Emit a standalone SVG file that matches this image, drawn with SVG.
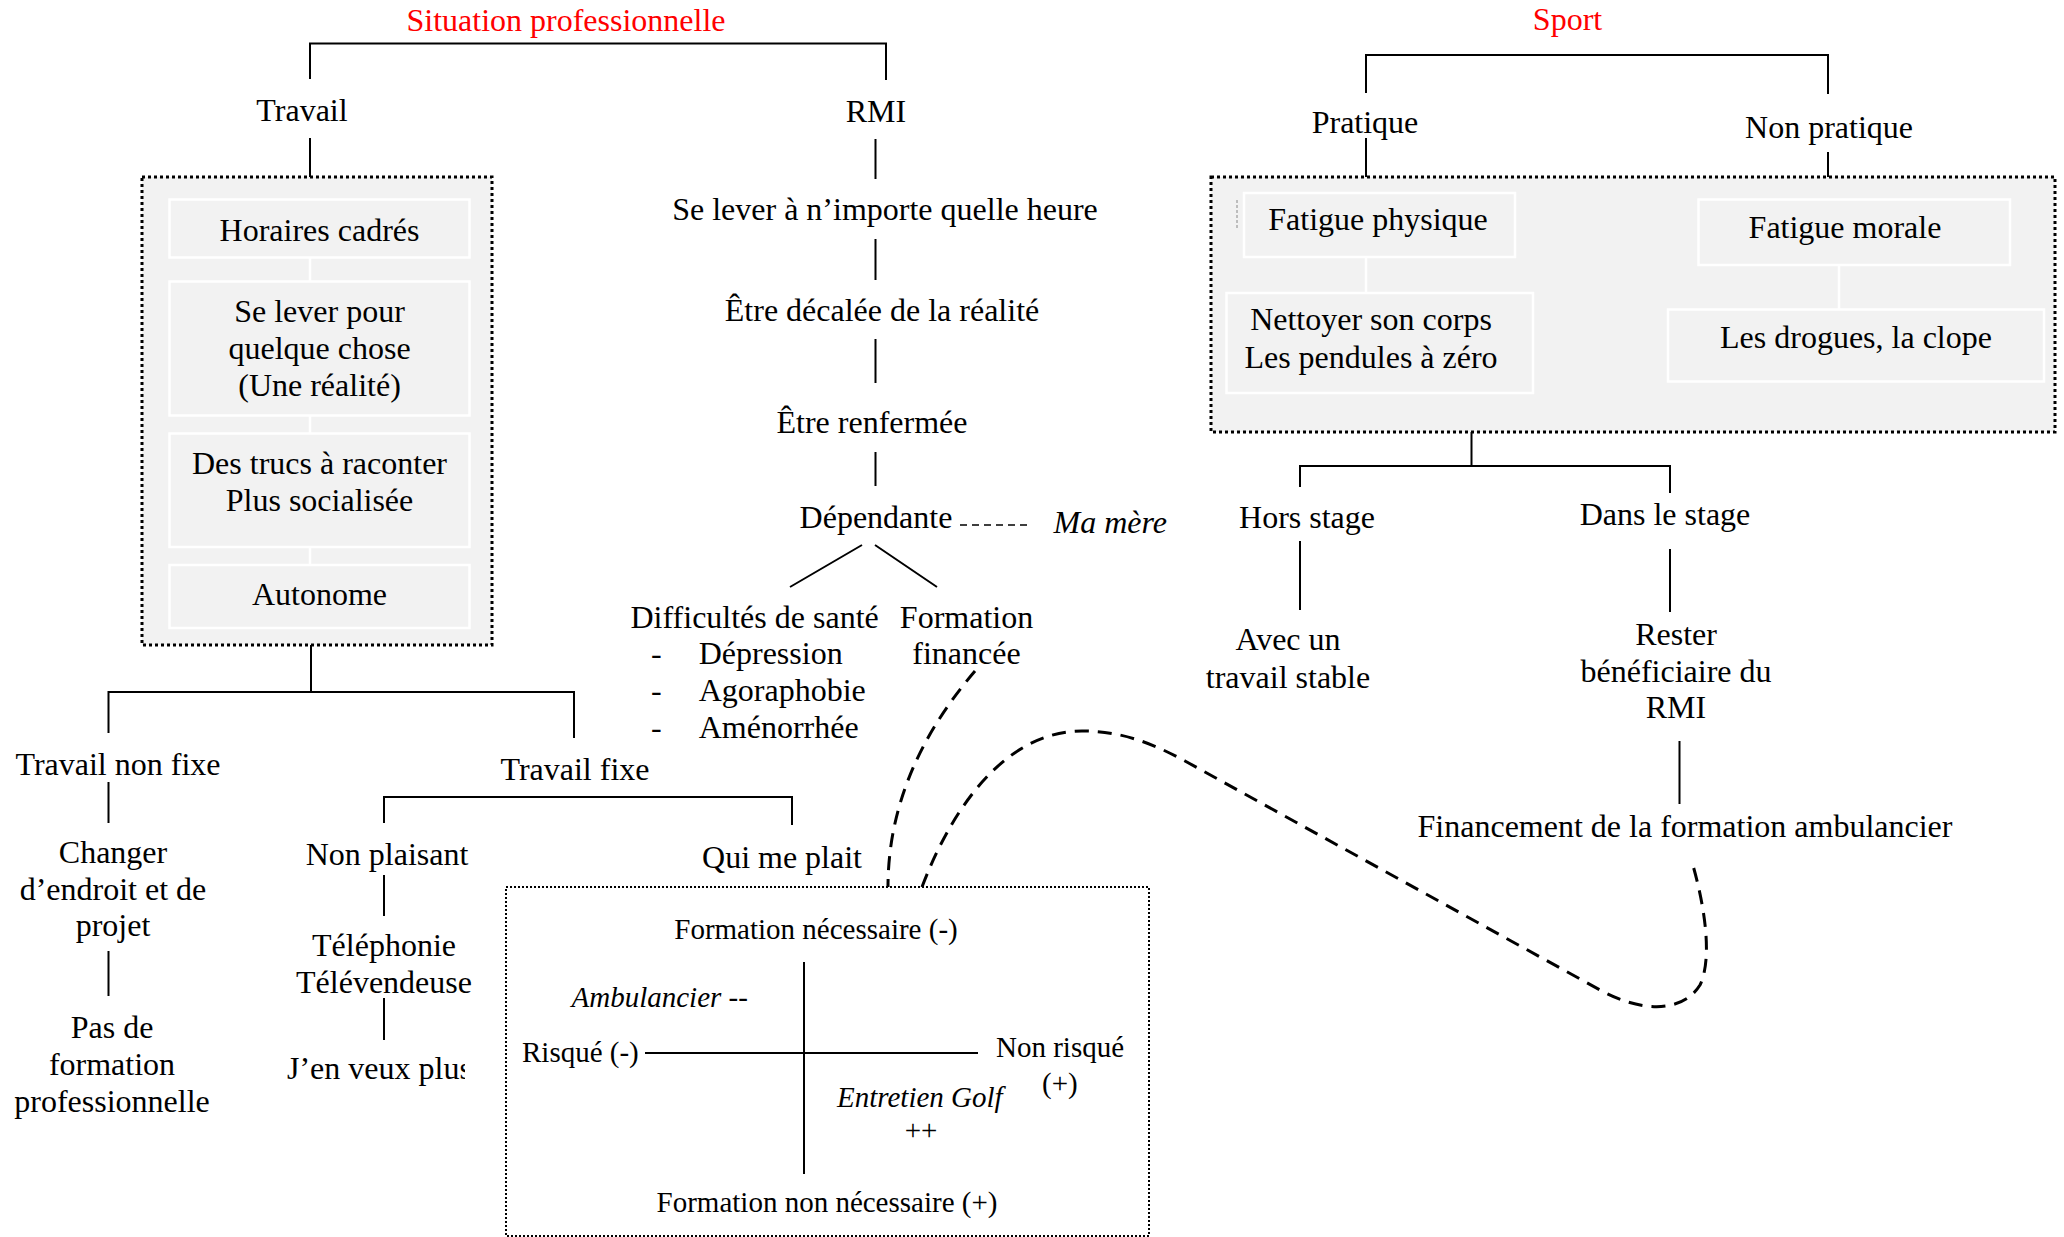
<svg xmlns="http://www.w3.org/2000/svg" width="2064" height="1237" viewBox="0 0 2064 1237">
<style>
text{font-family:"Liberation Serif","Times New Roman",serif;font-size:32px;fill:#000}
.c{text-anchor:middle}
.q{font-size:29px}
.i{font-style:italic}
.red{fill:#ff0000}
.ln{stroke:#000;stroke-width:2;fill:none}
.wl{stroke:#fff;stroke-width:2.5;fill:none}
.dash{stroke:#000;stroke-width:3;fill:none;stroke-dasharray:14 9}
.thin-dash{stroke:#000;stroke-width:1.6;fill:none;stroke-dasharray:7 5}
.outer{fill:#f2f2f2;stroke:#000;stroke-width:3;stroke-dasharray:3 3}
.inner{fill:#f2f2f2;stroke:#fff;stroke-width:2.5}
.quad{fill:#fff;stroke:#000;stroke-width:2;stroke-dasharray:2 2}
</style>
<defs>
<clipPath id="clipPlus"><rect x="250" y="1040" width="215" height="60"/></clipPath>
</defs>
<rect width="2064" height="1237" fill="#fff"/>

<!-- containers -->
<g id="box-travail">
<rect class="outer" x="142" y="177" width="350" height="468"/>
<rect class="inner" x="169.5" y="199.5" width="300" height="58"/>
<rect class="inner" x="169.5" y="281.5" width="300" height="134"/>
<rect class="inner" x="169.5" y="433.5" width="300" height="113.5"/>
<rect class="inner" x="169.5" y="565" width="300" height="63"/>
<path class="wl" d="M310 258V281M310 416V433M310 547V565"/>
<text class="c" x="319.5" y="241">Horaires cadrés</text>
<text class="c" x="319.5" y="322">Se lever pour</text>
<text class="c" x="319.5" y="359">quelque chose</text>
<text class="c" x="319.5" y="396">(Une réalité)</text>
<text class="c" x="319.5" y="474">Des trucs à raconter</text>
<text class="c" x="319.5" y="511">Plus socialisée</text>
<text class="c" x="319.5" y="605">Autonome</text>
</g>

<g id="box-sport">
<rect class="outer" x="1211" y="177" width="844" height="255"/>
<rect class="inner" x="1244" y="193" width="271" height="64"/>
<rect class="inner" x="1226.5" y="293" width="306.5" height="100"/>
<rect class="inner" x="1698.5" y="199.5" width="311.5" height="65.5"/>
<rect class="inner" x="1668" y="309.5" width="376" height="72"/>
<path class="wl" d="M1366 257V293M1839 265V309.5"/>
<path d="M1237 200V230" stroke="#888" stroke-width="1" stroke-dasharray="3 2" fill="none"/>
<text class="c" x="1378" y="230">Fatigue physique</text>
<text class="c" x="1371" y="330">Nettoyer son corps</text>
<text class="c" x="1371" y="368">Les pendules à zéro</text>
<text class="c" x="1845" y="238">Fatigue morale</text>
<text class="c" x="1856" y="348">Les drogues, la clope</text>
</g>

<g id="box-quadrant">
<rect class="quad" x="506" y="887" width="643" height="349"/>
<text class="c q" x="816" y="939">Formation nécessaire (-)</text>
<text class="q i" x="571.5" y="1007">Ambulancier --</text>
<text class="q" x="522" y="1062">Risqué (-)</text>
<text class="q" x="996" y="1057">Non risqué</text>
<text class="q" x="1042" y="1093">(+)</text>
<text class="q i" x="837" y="1107">Entretien Golf</text>
<text class="c q" x="921" y="1140">++</text>
<text class="c q" x="827" y="1212">Formation non nécessaire (+)</text>
</g>

<!-- connectors -->
<g id="connectors">
<path class="ln" d="M310 79V43.5H886V80"/>
<path class="ln" d="M310 138V177"/>
<path class="ln" d="M311 645V692"/>
<path class="ln" d="M108.5 733V692H574V738"/>
<path class="ln" d="M108.5 782V823M108.5 951V996"/>
<path class="ln" d="M384 823V797H792V825"/>
<path class="ln" d="M384 875V916M384 998V1040"/>
<path class="ln" d="M804 962V1174M645 1053H978"/>
<path class="ln" d="M875.5 139V179M875.5 239V280M875.5 339V383M875.5 452V486"/>
<path class="ln" d="M862 545L790 587M875 545L937 587"/>
<path class="thin-dash" d="M960 525H1031"/>
<path class="ln" d="M1366 93V55H1828V94"/>
<path class="ln" d="M1366 138V177M1828 152V177"/>
<path class="ln" d="M1471.5 432V466"/>
<path class="ln" d="M1300 487V466H1670V493"/>
<path class="ln" d="M1300 541V610M1670 549V612M1679.5 741V804"/>
<path class="dash" d="M975 671C935 718 888 790 888 887"/>
<path class="dash" d="M922 887C955 800 1010 731 1082 731C1120 731 1150 742 1185 761L1600 990C1640 1012 1682 1014 1700 985C1712 960 1706 910 1692 862"/>
</g>

<!-- nodes -->
<g id="title-situation"><text class="c red" x="566" y="31">Situation professionnelle</text></g>
<g id="travail"><text class="c" x="302" y="121">Travail</text></g>
<g id="travail-non-fixe"><text class="c" x="118" y="775">Travail non fixe</text></g>
<g id="changer"><text class="c" x="113" y="863">Changer</text><text class="c" x="113" y="900">d’endroit et de</text><text class="c" x="113" y="936">projet</text></g>
<g id="pas-de-formation"><text class="c" x="112" y="1038">Pas de</text><text class="c" x="112" y="1075">formation</text><text class="c" x="112" y="1112">professionnelle</text></g>
<g id="travail-fixe"><text class="c" x="575" y="780">Travail fixe</text></g>
<g id="non-plaisant"><text class="c" x="387" y="865">Non plaisant</text></g>
<g id="telephonie"><text class="c" x="384" y="956">Téléphonie</text><text class="c" x="384" y="993">Télévendeuse</text></g>
<g id="jen-veux-plus"><text x="287" y="1079" clip-path="url(#clipPlus)">J’en veux plus</text></g>
<g id="qui-me-plait"><text class="c" x="782" y="868">Qui me plait</text></g>

<g id="rmi"><text class="c" x="876" y="122">RMI</text></g>
<g id="se-lever"><text class="c" x="885" y="220">Se lever à n’importe quelle heure</text></g>
<g id="decalee"><text class="c" x="882" y="321">Être décalée de la réalité</text></g>
<g id="renfermee"><text class="c" x="872" y="433">Être renfermée</text></g>
<g id="dependante"><text class="c" x="876" y="528">Dépendante</text></g>
<g id="ma-mere"><text class="i" x="1053.5" y="533">Ma mère</text></g>
<g id="difficultes">
<text x="630.5" y="628">Difficultés de santé</text>
<text x="651" y="664">-</text><text x="698.7" y="664">Dépression</text>
<text x="651" y="701">-</text><text x="698.7" y="701">Agoraphobie</text>
<text x="651" y="738">-</text><text x="698.7" y="738">Aménorrhée</text>
</g>
<g id="formation-financee"><text class="c" x="966.5" y="628">Formation</text><text class="c" x="966.5" y="664">financée</text></g>

<g id="title-sport"><text class="c red" x="1567.5" y="30">Sport</text></g>
<g id="pratique"><text class="c" x="1365" y="133">Pratique</text></g>
<g id="non-pratique"><text class="c" x="1829" y="138">Non pratique</text></g>
<g id="hors-stage"><text class="c" x="1307" y="528">Hors stage</text></g>
<g id="avec-un"><text class="c" x="1288" y="650">Avec un</text><text class="c" x="1288" y="688">travail stable</text></g>
<g id="dans-le-stage"><text class="c" x="1665" y="525">Dans le stage</text></g>
<g id="rester"><text class="c" x="1676" y="645">Rester</text><text class="c" x="1676" y="682">bénéficiaire du</text><text class="c" x="1676" y="718">RMI</text></g>
<g id="financement"><text class="c" x="1685" y="837">Financement de la formation ambulancier</text></g>
</svg>
